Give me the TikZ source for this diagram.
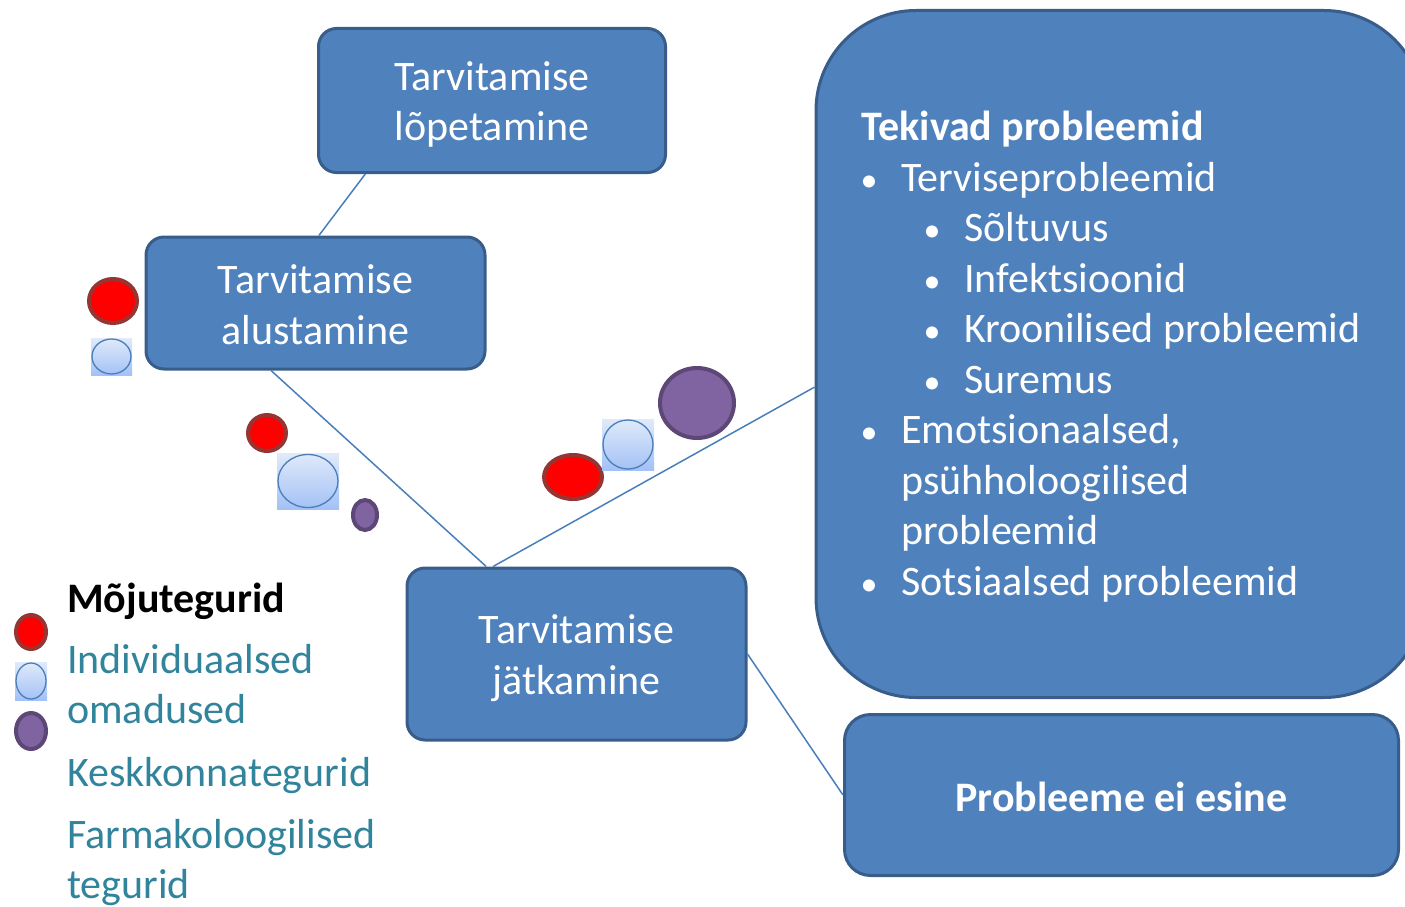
\documentclass[tikz,border=0pt]{standalone}
\usepackage{fontspec}
\setmainfont{Carlito}
\usetikzlibrary{calc,shapes.geometric}
\definecolor{boxfill}{HTML}{4F81BD}
\definecolor{boxline}{HTML}{385D8A}
\definecolor{lineblue}{HTML}{4A7EBB}
\definecolor{reddark}{HTML}{943634}
\definecolor{purplefill}{HTML}{8064A2}
\definecolor{purpleline}{HTML}{5C4776}
\definecolor{lbtop}{HTML}{E0EAFA}
\definecolor{lbbot}{HTML}{A3C1F6}
\definecolor{teal}{HTML}{31849B}
\begin{document}
\begin{tikzpicture}[x=1pt,y=-1pt,
  big/.style={font=\fontsize{42}{50.6}\selectfont},
  box/.style={draw=boxline, line width=3pt, fill=boxfill, rounded corners=18pt, inner sep=0pt},
  boxtext/.style={text=white, align=center, big, inner sep=0pt},
  conn/.style={draw=lineblue, line width=1.5pt},
  txt/.style={big, text=white, inner sep=0pt, anchor=base west},
  bul/.style={font=\fontsize{34}{40}\selectfont, text=white, inner sep=0pt, anchor=base},
  leg/.style={big, text=teal, inner sep=0pt, anchor=base west},
  redov/.style={ellipse, draw=reddark, fill=red, line width=4pt, inner sep=0pt},
  purov/.style={ellipse, draw=purpleline, fill=purplefill, line width=4pt, inner sep=0pt},
  lbbg/.style={rectangle, top color=lbtop, bottom color=lbbot, draw=none, inner sep=0pt},
  lbov/.style={ellipse, draw=lineblue, line width=1.3pt, inner sep=0pt}
]
\useasboundingbox (0,0) rectangle (1405,907);

% boxes
\node[box, minimum width=347pt, minimum height=144pt] (b1) at (492,100.5) {};
\node[boxtext] (b1t) at ($(b1.center)+(0,4)$) {Tarvitamise\\lõpetamine};
\node[box, minimum width=339pt, minimum height=132pt] (b2) at (315.5,303) {};
\node[boxtext] (b2t) at ($(b2.center)+(0,2)$) {Tarvitamise\\alustamine};
\node[box, minimum width=339pt, minimum height=172pt] (b3) at (576.5,654) {};
\node[boxtext] (b3t) at ($(b3.center)+(0,4)$) {Tarvitamise\\jätkamine};
\node[box, rounded corners=100pt, minimum width=608pt, minimum height=687pt] (bb) at (1120,354) {};
\node[box, rounded corners=26pt, minimum width=554pt, minimum height=161pt] (b5) at (1121.5,795) {};
\node[boxtext, font=\fontsize{42}{50.6}\selectfont\bfseries] (b5t) at ($(b5.center)+(0,2)$) {Probleeme ei esine};

% connectors
\draw[conn] ($(b1.south west)!0.138!(b1.south east)$) -- ($(b2.north west)!0.51!(b2.north east)$);
\draw[conn] ($(b2.south west)!0.37!(b2.south east)$) -- ($(b3.north west)!0.236!(b3.north east)$);
\draw[conn] ($(b3.north west)!0.256!(b3.north east)$) -- ($(bb.north west)!0.548!(bb.south west)$);
\draw[conn] (b3.east) -- (b5.west);

% list in big box
\node[txt] (h1) at (861,140) {\textbf{Tekivad probleemid}};
\node[bul] (u1) at (869,191) {•};
\node[txt] (l1) at (901,191) {Terviseprobleemid};
\node[bul] (u2) at (932,241) {•};
\node[txt] (l2) at (964,241) {Sõltuvus};
\node[bul] (u3) at (932,292) {•};
\node[txt] (l3) at (964,292) {Infektsioonid};
\node[bul] (u4) at (932,342) {•};
\node[txt] (l4) at (964,342) {Kroonilised probleemid};
\node[bul] (u5) at (932,393) {•};
\node[txt] (l5) at (964,393) {Suremus};
\node[bul] (u6) at (869,443) {•};
\node[txt] (l6) at (901,443) {Emotsionaalsed,};
\node[txt] (l7) at (901,494) {psühholoogilised};
\node[txt] (l8) at (901,544) {probleemid};
\node[bul] (u9) at (869,595) {•};
\node[txt] (l9) at (901,595) {Sotsiaalsed probleemid};

% factor markers
\node[redov, minimum width=48pt, minimum height=44pt] (r1) at (113,301) {};
\node[lbbg, minimum width=41pt, minimum height=37pt] (q1) at (111.5,356.5) {};
\node[lbov, minimum width=39pt, minimum height=35pt] (c1) at (q1) {};

\node[redov, minimum width=38pt, minimum height=36pt] (r2) at (267,433) {};
\node[lbbg, minimum width=62pt, minimum height=56pt] (q2) at (308,481) {};
\node[lbov, minimum width=60pt, minimum height=53pt] (c2) at (q2) {};
\node[purov, minimum width=24pt, minimum height=30pt] (p2) at (365,515) {};

\node[redov, minimum width=58pt, minimum height=44pt] (r3) at (573,477) {};
\node[lbbg, minimum width=52pt, minimum height=51pt] (q3) at (628,444.5) {};
\node[lbov, minimum width=50pt, minimum height=49pt] (c3) at (q3) {};
\node[purov, minimum width=74pt, minimum height=70pt] (p3) at (697,403) {};

% legend
\node[redov, minimum width=30pt, minimum height=34pt] (lr) at (31,632) {};
\node[lbbg, minimum width=32pt, minimum height=38pt] (lq) at (31,681) {};
\node[lbov, minimum width=30pt, minimum height=36pt] (lc) at (lq) {};
\node[purov, minimum width=30pt, minimum height=36pt] (lp) at (31,731) {};

\node[big, inner sep=0pt, anchor=base west] (m0) at (67,612) {\textbf{Mõjutegurid}};
\node[leg] (m1) at (67,673) {Individuaalsed};
\node[leg] (m2) at (67,723) {omadused};
\node[leg] (m3) at (67,786) {Keskkonnategurid};
\node[leg] (m4) at (67,848) {Farmakoloogilised};
\node[leg] (m5) at (67,898) {tegurid};
\end{tikzpicture}
\end{document}
